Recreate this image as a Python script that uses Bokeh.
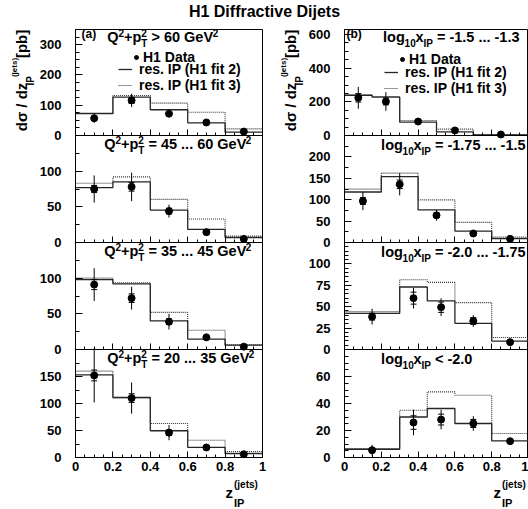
import math
from bokeh.plotting import figure
from bokeh.models import Range1d, LinearAxis, FixedTicker, Label, Legend, LegendItem
from bokeh.layouts import column, row
from bokeh.embed import file_html
from bokeh.resources import INLINE

FONT = "Liberation Sans"

# ---------------- data ----------------
title_text = "H1 Diffractive Dijets"
legend_labels = ["H1 Data", "res. IP (H1 fit 2)", "res. IP (H1 fit 3)"]
z_major = [0, 0.2, 0.4, 0.6, 0.8, 1.0]
z_major_labels = ["0", "0.2", "0.4", "0.6", "0.8", "1"]
z_minor = [0, 0.05, 0.1, 0.15, 0.2, 0.25, 0.3, 0.35, 0.4, 0.45, 0.5,
           0.55, 0.6, 0.65, 0.7, 0.75, 0.8, 0.85, 0.9, 0.95, 1.0]

# left column : Q^2 + pT^2 bins
a_edges = [0, 0.2, 0.4, 0.6, 0.8, 1.0]

a1_data = [57, 116, 72, 43, 13]
a1_err = [15, 22, 8, 5, 3]
a1_stat = [6, 10, 4, 3, 2]
a1_fit2 = [72, 127, 85, 42, 11]
a1_fit3 = [74, 132, 107, 77, 22]

a2_data = [75, 78, 44, 14.5, 5]
a2_err = [19, 20, 9, 3, 2]
a2_stat = [5, 6, 4, 2, 1]
a2_fit2 = [77, 85, 45.5, 18.3, 7]
a2_fit3 = [83, 92, 60.5, 33, 9]

a3_data = [91, 72, 39, 17, 4]
a3_err = [23, 16, 11, 4, 2]
a3_stat = [7, 6, 4, 2, 1]
a3_fit2 = [98, 92, 40, 14.6, 6]
a3_fit3 = [100, 93.5, 52, 27, 6.5]

a4_data = [152, 110, 46, 18.6, 6]
a4_err = [50, 29, 14, 4, 2]
a4_stat = [10, 8, 5, 2, 1]
a4_fit2 = [153, 111.5, 49.5, 18.6, 7.4]
a4_fit3 = [160, 110, 63, 32, 11]

# right column : log10 x_IP bins
b1_edges = [0, 0.15, 0.3, 0.5, 0.7, 1.0]
b1_data = [224, 202, 83, 30, 6]
b1_err = [65, 55, 12, 8, 4]
b1_stat = [25, 20, 6, 4, 2]
b1_fit2 = [238, 228, 79, 22, 3]
b1_fit3 = [244, 232, 89, 38, 6]

b2_edges = [0, 0.2, 0.4, 0.6, 0.8, 1.0]
b2_data = [97, 136, 63.5, 21, 8.5]
b2_err = [21.6, 26, 12.5, 4, 2]
b2_stat = [8, 10, 5, 2, 1]
b2_fit2 = [118, 154, 76, 26.6, 9.4]
b2_fit3 = [124.7, 162, 99.5, 47, 13]

b3_edges = [0, 0.3, 0.45, 0.6, 0.8, 1.0]
b3_data = [38.4, 60, 49.4, 33.3, 8.6]
b3_err = [9.2, 12, 10.4, 6.9, 3]
b3_stat = [4, 7, 6, 4, 1.5]
b3_fit2 = [42.3, 73, 56.8, 30.6, 9.8]
b3_fit3 = [44.3, 81.5, 78.4, 54.8, 14]

b4_edges = [0, 0.3, 0.45, 0.6, 0.8, 1.0]
b4_data = [5.4, 25.9, 28.1, 25.2, 12.1]
b4_err = [4, 9.5, 7.3, 5.4, 2]
b4_stat = [1.5, 5, 4, 3, 1]
b4_fit2 = [6.1, 30, 36.3, 25.2, 12.3]
b4_fit3 = [6.7, 35, 48.6, 46.1, 17.8]

# y ranges and ticks per panel
a_yranges = [(0, 350), (0, 150), (0, 150), (0, 200)]
a_yticks = [[0, 100, 200, 300], [0, 50, 100], [0, 50, 100], [0, 50, 100, 150]]
a_yminor = [[0, 25, 50, 75, 100, 125, 150, 175, 200, 225, 250, 275, 300, 325, 350],
            [0, 25, 50, 75, 100, 125, 150],
            [0, 25, 50, 75, 100, 125, 150],
            [0, 25, 50, 75, 100, 125, 150, 175, 200]]
b_yranges = [(0, 630), (0, 250), (0, 125), (0, 80)]
b_yticks = [[0, 200, 400, 600], [0, 50, 100, 150, 200], [0, 25, 50, 75, 100], [0, 20, 40, 60]]
b_yminor = [[0, 50, 100, 150, 200, 250, 300, 350, 400, 450, 500, 550, 600],
            [0, 25, 50, 75, 100, 125, 150, 175, 200, 225, 250],
            [0, 5, 10, 15, 20, 25, 30, 35, 40, 45, 50, 55, 60, 65, 70, 75, 80, 85, 90, 95, 100, 105, 110, 115, 120, 125],
            [0, 5, 10, 15, 20, 25, 30, 35, 40, 45, 50, 55, 60, 65, 70, 75, 80]]

# panel captions (rich text pieces)
a_captions = [
    [("n", "Q"), ("sup", "2"), ("n", "+p"), ("supsub", ("2", "T")), ("n", " > 60 GeV"), ("sup", "2")],
    [("n", "Q"), ("sup", "2"), ("n", "+p"), ("supsub", ("2", "T")), ("n", " = 45 ... 60 GeV"), ("sup", "2")],
    [("n", "Q"), ("sup", "2"), ("n", "+p"), ("supsub", ("2", "T")), ("n", " = 35 ... 45 GeV"), ("sup", "2")],
    [("n", "Q"), ("sup", "2"), ("n", "+p"), ("supsub", ("2", "T")), ("n", " = 20 ... 35 GeV"), ("sup", "2")],
]
b_captions = [
    [("n", "log"), ("sub", "10"), ("n", "x"), ("sub", "IP"), ("n", " = -1.5 ... -1.3")],
    [("n", "log"), ("sub", "10"), ("n", "x"), ("sub", "IP"), ("n", " = -1.75 ... -1.5")],
    [("n", "log"), ("sub", "10"), ("n", "x"), ("sub", "IP"), ("n", " = -2.0 ... -1.75")],
    [("n", "log"), ("sub", "10"), ("n", "x"), ("sub", "IP"), ("n", " < -2.0")],
]
panel_tags = ["(a)", "(b)"]
ylabel_parts = ["dσ / dz", "IP", "(jets)", "[pb]"]
xlabel_parts = ["z", "(jets)", "IP"]

# ---------------- layout constants (page pixels) ----------------
TOP_Y = 28            # top of the column canvases
FRAME_TOP = 29
FRAME_BOTTOM = 457
FRAME_H = FRAME_BOTTOM - FRAME_TOP
COL_BOTTOM = 478
PAGE_H = 509
PAGE_W = 528
PANEL_SPANS = [(322, 428), (215, 322), (108, 215), (0, 108)]   # px above frame bottom
MID = 0.35            # distance baseline -> visual middle, in em

# Arial/Liberation Sans Bold advance widths (per 1000 em)
W = {" ": 278, "(": 333, ")": 333, "+": 584, ".": 278, "-": 333, "/": 278, "<": 584, "=": 584,
     ">": 584, "G": 778, "I": 278, "P": 667, "Q": 778, "T": 611, "V": 667, "a": 556, "b": 611,
     "d": 611, "e": 556, "g": 611, "j": 278, "l": 278, "o": 611, "p": 611, "s": 556, "t": 333,
     "x": 556, "z": 500, "[": 333, "]": 333}


def tw(s, size):
    return sum(W.get(c, 556) for c in s) * size / 1000.0


def label(p, x, y, txt, size, angle=0.0, align="left"):
    """(x, y) is the centre line of the text (middle baseline)"""
    p.add_layout(Label(x=x, y=y, text=txt, text_font=FONT, text_font_size=f"{size}px",
                       text_font_style="bold", text_color="black", text_baseline="middle",
                       text_align=align, text_line_height=1.0, angle=angle))


def run(p, geo, x, base, txt, size):
    """place a text run (left edge at page x, baseline at page y=base); returns x after it"""
    lead = len(txt) - len(txt.lstrip(" "))
    x += lead * W[" "] * size / 1000.0
    s = txt.strip(" ")
    label(p, (x - geo["left"]) / geo["w"], FRAME_BOTTOM - (base - MID * size), s, size)
    return x + tw(txt[lead:], size)


def rich(p, geo, px, base, pieces, main=14.5, small=10):
    x = px
    for kind, txt in pieces:
        if kind == "n":
            x = run(p, geo, x, base, txt, main)
        elif kind == "sup":
            x = run(p, geo, x, base - 6, txt, small)
        elif kind == "sub":
            x = run(p, geo, x, base + 4, txt, small)
        else:
            sup, sub = txt
            x1 = run(p, geo, x, base - 6, sup, small)
            x2 = run(p, geo, x, base + 4, sub, small)
            x = max(x1, x2)


def style_axis(ax, show_labels=True):
    ax.axis_line_color = "black"
    ax.axis_line_width = 1
    ax.major_tick_in = 6
    ax.major_tick_out = 0
    ax.minor_tick_in = 3
    ax.minor_tick_out = 0
    ax.major_tick_line_color = "black"
    ax.minor_tick_line_color = "black"
    ax.major_label_text_font = FONT
    ax.major_label_text_font_size = "13px"
    ax.major_label_text_font_style = "bold"
    ax.major_label_text_color = "black" if show_labels else None


def deco_fig(w, h):
    p = figure(width=w, height=h, x_range=Range1d(0, w), y_range=Range1d(0, h),
               x_axis_location=None, y_axis_location=None, toolbar_location=None,
               output_backend="svg", min_border=0)
    p.outline_line_color = None
    p.grid.visible = False
    p.background_fill_color = "white"
    p.border_fill_color = "white"
    return p


def build_column(geo, panels, min_left, min_right, caption_pos, tag_pos, leg, tag):
    fig_w = min_left + geo["w"] + min_right
    p = figure(width=fig_w, height=COL_BOTTOM - TOP_Y,
               x_range=Range1d(0, 1), y_range=Range1d(0, FRAME_H),
               y_axis_location=None, toolbar_location=None, output_backend="svg",
               min_border_left=min_left, min_border_right=min_right,
               min_border_top=FRAME_TOP - TOP_Y, min_border_bottom=COL_BOTTOM - FRAME_BOTTOM)
    p.grid.visible = False
    p.outline_line_color = "black"
    p.outline_line_width = 1
    p.background_fill_color = "white"
    p.border_fill_color = "white"

    xa = p.xaxis[0]
    xa.ticker = FixedTicker(ticks=z_major, minor_ticks=z_minor)
    xa.major_label_overrides = dict(zip(z_major, z_major_labels))
    style_axis(xa)
    xa.major_label_standoff = 4

    extra = {}
    ymaj, ymin, yover = [], [], {}
    for k, pan in enumerate(panels):
        a, b = PANEL_SPANS[k]
        lo, hi = pan["yr"]
        extra[f"p{k}"] = Range1d(start=lo - (hi - lo) * a / (b - a),
                                 end=lo + (hi - lo) * (FRAME_H - a) / (b - a))
        for t in pan["ticks"]:
            m = a + (t - lo) / (hi - lo) * (b - a)
            ymaj.append(m)
            yover[m] = str(t)
        for t in pan["minor"]:
            ymin.append(a + (t - lo) / (hi - lo) * (b - a))
    p.extra_y_ranges = extra

    yax = LinearAxis(ticker=FixedTicker(ticks=ymaj, minor_ticks=ymin))
    style_axis(yax)
    yax.major_label_overrides = yover
    yax.major_tick_in = 7
    yax.minor_tick_in = 4
    yax.major_label_standoff = 14
    p.add_layout(yax, "left")

    legend_renderers = None
    for k, pan in enumerate(panels):
        name = f"p{k}"
        lo, hi = pan["yr"]
        if k < 3:
            xax = LinearAxis(y_range_name=name, fixed_location=lo,
                             ticker=FixedTicker(ticks=z_major, minor_ticks=z_minor))
            style_axis(xax, show_labels=False)
            p.add_layout(xax, "below")

        e = pan["edges"]
        centers = [(e[i] + e[i + 1]) / 2 for i in range(len(e) - 1)]
        d, er, st = pan["data"], pan["err"], pan["stat"]
        r3 = p.step(x=e, y=pan["fit3"] + [pan["fit3"][-1]], mode="after", y_range_name=name,
                    line_color="#333333", line_width=1.1, line_dash="1 1")
        r2 = p.step(x=e, y=pan["fit2"] + [pan["fit2"][-1]], mode="after", y_range_name=name,
                    line_color="#262626", line_width=1.3)
        p.segment(x0=centers, y0=[v - s for v, s in zip(d, er)],
                  x1=centers, y1=[v + s for v, s in zip(d, er)],
                  y_range_name=name, line_color="black", line_width=1)
        p.scatter(x=centers + centers, y=[v - s for v, s in zip(d, st)] + [v + s for v, s in zip(d, st)],
                  marker="dash", size=6, line_color="black", line_width=1, y_range_name=name)
        rp = p.scatter(x=centers, y=d, marker="circle", size=7, fill_color="black",
                       line_color="black", y_range_name=name)
        if k == 0:
            legend_renderers = (rp, r2, r3)

        cx, cy = caption_pos[k]
        rich(p, geo, cx, cy, pan["caption"])

    run(p, geo, tag_pos[0], tag_pos[1], tag, 12)

    rp, r2, r3 = legend_renderers
    common = dict(padding=0, margin=0, spacing=-3, border_line_color=None, background_fill_alpha=0,
                  label_text_font=FONT, label_text_font_size="14px", label_text_font_style="bold",
                  label_text_color="black", label_text_line_height=1.0,
                  label_height=16, glyph_height=16)
    l1 = Legend(items=[LegendItem(label=legend_labels[0], renderers=[rp])],
                location=leg[0], glyph_width=10, label_standoff=2, **common)
    l2 = Legend(items=[LegendItem(label=legend_labels[1], renderers=[r2]),
                       LegendItem(label=legend_labels[2], renderers=[r3])],
                location=leg[1], glyph_width=14, label_standoff=7, **common)
    p.add_layout(l1)
    p.add_layout(l2)
    return p


def ytitle_fig(left, w, cx_main, cx_sub, cx_sup):
    """rotated y title; cx_* are page x of the visual centre line of each run"""
    p = deco_fig(w, COL_BOTTOM - TOP_Y)
    y = lambda py: COL_BOTTOM - py
    label(p, cx_main - left, y(135), ylabel_parts[0], 15, math.pi / 2)
    label(p, cx_sub - left, y(87), ylabel_parts[1], 10, math.pi / 2)
    label(p, cx_sup - left, y(78), ylabel_parts[2], 8, math.pi / 2)
    label(p, cx_main - left, y(58), ylabel_parts[3], 15, math.pi / 2)
    return p


a_sets = [(a1_data, a1_err, a1_stat, a1_fit2, a1_fit3), (a2_data, a2_err, a2_stat, a2_fit2, a2_fit3),
          (a3_data, a3_err, a3_stat, a3_fit2, a3_fit3), (a4_data, a4_err, a4_stat, a4_fit2, a4_fit3)]
b_sets = [(b1_edges, b1_data, b1_err, b1_stat, b1_fit2, b1_fit3), (b2_edges, b2_data, b2_err, b2_stat, b2_fit2, b2_fit3),
          (b3_edges, b3_data, b3_err, b3_stat, b3_fit2, b3_fit3), (b4_edges, b4_data, b4_err, b4_stat, b4_fit2, b4_fit3)]

left_panels = []
for k, (d, er, st, f2, f3) in enumerate(a_sets):
    left_panels.append(dict(edges=a_edges, data=d, err=er, stat=st, fit2=f2, fit3=f3,
                            yr=a_yranges[k], ticks=a_yticks[k], minor=a_yminor[k], caption=a_captions[k]))
right_panels = []
for k, (e, d, er, st, f2, f3) in enumerate(b_sets):
    right_panels.append(dict(edges=e, data=d, err=er, stat=st, fit2=f2, fit3=f3,
                             yr=b_yranges[k], ticks=b_yticks[k], minor=b_yminor[k], caption=b_captions[k]))

# columns: yL [0,36) | mainL [36,272) | yR [272,305) | mainR [305,528)
geo_l = dict(left=74, w=188)
geo_r = dict(left=342, w=186)

pl = build_column(geo_l, left_panels, 38, 10,
                  caption_pos=[(106, 42), (103, 149), (103, 256), (106, 363)],
                  tag_pos=(80, 38), leg=[(56, 392.5), (43, 364)], tag=panel_tags[0])
pr = build_column(geo_r, right_panels, 37, 0,
                  caption_pos=[(381, 42), (379, 150), (379, 257), (379, 364)],
                  tag_pos=(344, 38), leg=[(53, 390.5), (40, 361)], tag=panel_tags[1])

yl = ytitle_fig(0, 36, 21, 30, 14)
yr = ytitle_fig(272, 33, 290, 299, 283)

# title strip
tfig = deco_fig(PAGE_W, TOP_Y)
label(tfig, 264, TOP_Y - 11, title_text, 16, align="center")

# x-axis title strip (visual centre lines)
xfig = deco_fig(PAGE_W, PAGE_H - COL_BOTTOM)
for zx in (225, 493):
    label(xfig, zx, PAGE_H - 492, xlabel_parts[0], 15)
    label(xfig, zx + 8.5, PAGE_H - 484, xlabel_parts[1], 10)
    label(xfig, zx + 8.5, PAGE_H - 502, xlabel_parts[2], 11)

layout = column(tfig, row(yl, pl, yr, pr), xfig)
open("out.html", "w").write(file_html(layout, INLINE))
